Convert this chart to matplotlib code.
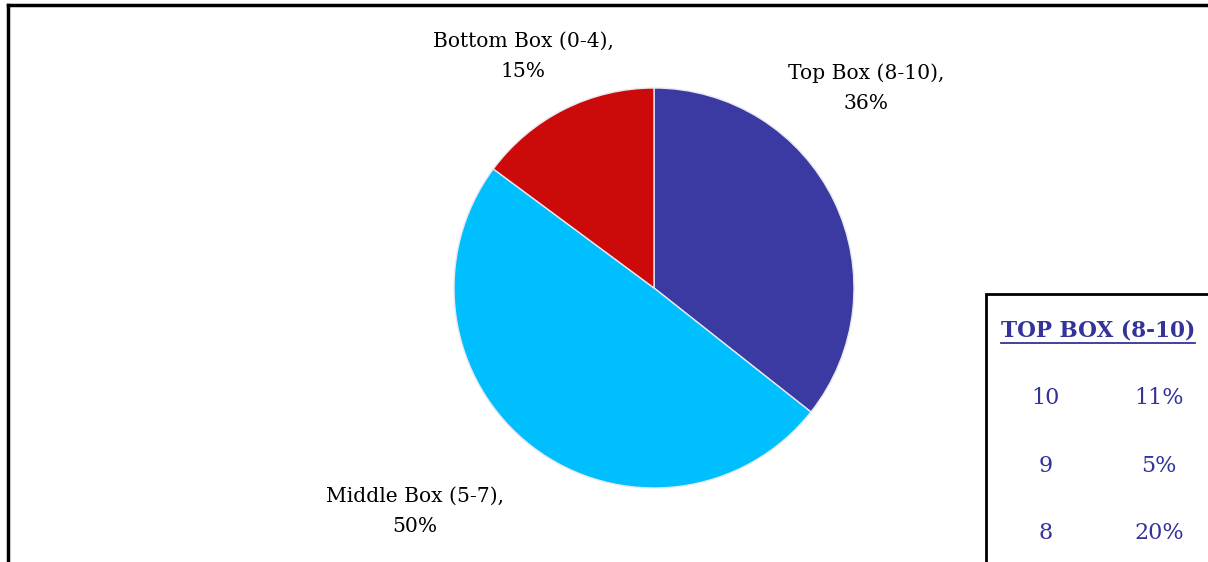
import matplotlib
matplotlib.use('Agg')
import matplotlib.pyplot as plt
from matplotlib.lines import Line2D
from matplotlib.patches import Rectangle

# ── Dane ──────────────────────────────────────────────────────────────────────
labels = ["Top Box (8-10),\n36%", "Middle Box (5-7),\n50%", "Bottom Box (0-4),\n15%"]
shares = [36, 50, 15]
colors = ['#3A3AA2', '#00BFFF', '#CC0A0A']
label_pos = [(1.06, 1.0), (-1.195, -1.115), (-0.655, 1.16)]

table_title = "TOP BOX (8-10)"
table_scores = ["10", "9", "8"]
table_pct = ["11%", "5%", "20%"]

W, H = 1208, 562
FONT = 'DejaVu Serif'
TEXT_BLUE = '#33339A'

fig = plt.figure(figsize=(W / 100, H / 100), dpi=100)
fig.patch.set_facecolor('white')

# ── Pie ──
cx, cy, r = 654, 288, 200
ax = fig.add_axes([(cx - r) / W, (H - cy - r) / H, 2 * r / W, 2 * r / H])
wedges, _ = ax.pie(shares, colors=colors, startangle=90, counterclock=False,
                   radius=1.0, wedgeprops=dict(edgecolor='#e8e8f0', linewidth=1.0))
ax.set_xlim(-1, 1)
ax.set_ylim(-1, 1)
ax.set_aspect('auto')
ax.axis('off')

for txt, (x, y) in zip(labels, label_pos):
    ax.text(x, y, txt, ha='center', va='center', fontsize=14.6,
            family=FONT, color='black', linespacing=1.75, clip_on=False)

# ── Ramka ──
fig.add_artist(Line2D([8 / W, 1], [1 - 5 / H, 1 - 5 / H], color='black', lw=2.5,
                      transform=fig.transFigure))
fig.add_artist(Line2D([8 / W, 8 / W], [0, 1 - 5 / H], color='black', lw=2.5,
                      transform=fig.transFigure))

# ── Tabela TOP BOX ──
fig.add_artist(Rectangle((986 / W, -0.05), 0.2, 1 - 294 / H + 0.05, fill=False,
                         edgecolor='black', lw=2, transform=fig.transFigure))
fig.text(1098 / W, 1 - 331 / H, table_title, ha='center', va='center',
         fontsize=15.6, fontweight='bold', family=FONT, color=TEXT_BLUE)
fig.add_artist(Line2D([1001 / W, 1195 / W], [1 - 343 / H, 1 - 343 / H],
                      color=TEXT_BLUE, lw=1.3, transform=fig.transFigure))
for i, (s, p) in enumerate(zip(table_scores, table_pct)):
    yy = 1 - (398 + i * 67.5) / H
    fig.text(1046 / W, yy, s, ha='center', va='center', fontsize=16,
             family=FONT, color=TEXT_BLUE)
    fig.text(1159 / W, yy, p, ha='center', va='center', fontsize=16,
             family=FONT, color=TEXT_BLUE)

fig.savefig('out.png', dpi=100, facecolor='white')
